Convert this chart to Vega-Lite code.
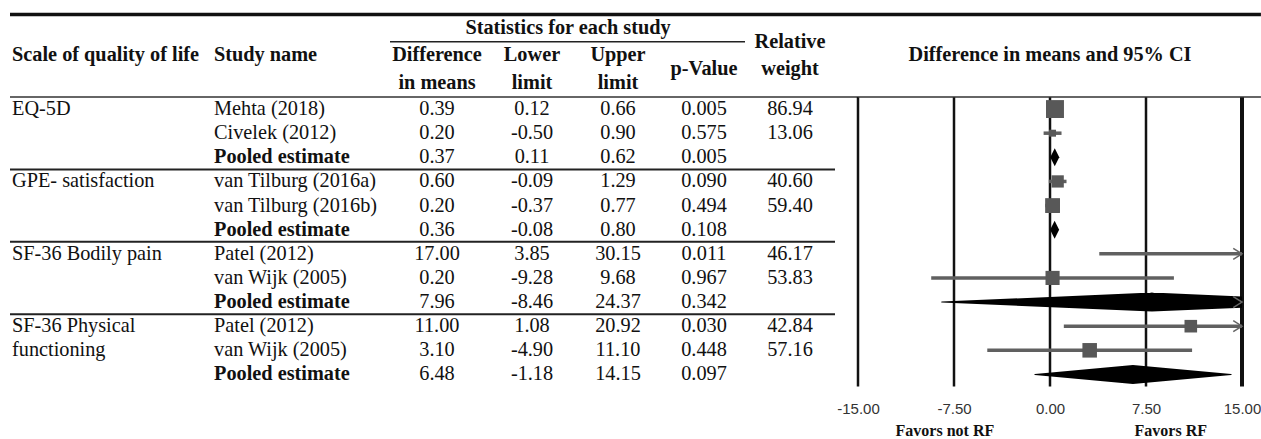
{
  "$schema": "https://vega.github.io/schema/vega-lite/v6.json",
  "padding": 0,
  "spacing": 0,
  "bounds": "flush",
  "background": "white",
  "config": {
    "view": {"stroke": null},
    "locale": {"number": {"decimal": ".", "thousands": ",", "grouping": [3], "currency": ["$", ""], "minus": "-"}}
  },
  "datasets": {
    "studies": [
      {"scale": "EQ-5D", "study": "Mehta (2018)", "diff": 0.39, "lower": 0.12, "upper": 0.66, "p": 0.005, "weight": 86.94},
      {"scale": "EQ-5D", "study": "Civelek (2012)", "diff": 0.20, "lower": -0.50, "upper": 0.90, "p": 0.575, "weight": 13.06},
      {"scale": "EQ-5D", "study": "Pooled estimate", "diff": 0.37, "lower": 0.11, "upper": 0.62, "p": 0.005, "weight": null},
      {"scale": "GPE- satisfaction", "study": "van Tilburg (2016a)", "diff": 0.60, "lower": -0.09, "upper": 1.29, "p": 0.090, "weight": 40.60},
      {"scale": "GPE- satisfaction", "study": "van Tilburg (2016b)", "diff": 0.20, "lower": -0.37, "upper": 0.77, "p": 0.494, "weight": 59.40},
      {"scale": "GPE- satisfaction", "study": "Pooled estimate", "diff": 0.36, "lower": -0.08, "upper": 0.80, "p": 0.108, "weight": null},
      {"scale": "SF-36 Bodily pain", "study": "Patel (2012)", "diff": 17.00, "lower": 3.85, "upper": 30.15, "p": 0.011, "weight": 46.17},
      {"scale": "SF-36 Bodily pain", "study": "van Wijk (2005)", "diff": 0.20, "lower": -9.28, "upper": 9.68, "p": 0.967, "weight": 53.83},
      {"scale": "SF-36 Bodily pain", "study": "Pooled estimate", "diff": 7.96, "lower": -8.46, "upper": 24.37, "p": 0.342, "weight": null},
      {"scale": "SF-36 Physical\nfunctioning", "study": "Patel (2012)", "diff": 11.00, "lower": 1.08, "upper": 20.92, "p": 0.030, "weight": 42.84},
      {"scale": "SF-36 Physical\nfunctioning", "study": "van Wijk (2005)", "diff": 3.10, "lower": -4.90, "upper": 11.10, "p": 0.448, "weight": 57.16},
      {"scale": "SF-36 Physical\nfunctioning", "study": "Pooled estimate", "diff": 6.48, "lower": -1.18, "upper": 14.15, "p": 0.097, "weight": null}
    ],
    "headers": [
      {"text": "Scale of quality of life", "col": -0.5, "line": "l3"},
      {"text": "Study name", "col": 0.5, "line": "l3"},
      {"text": "Statistics for each study", "col": 3.5, "line": "l1"},
      {"text": "Difference", "col": 2, "line": "l3"},
      {"text": "in means", "col": 2, "line": "l5"},
      {"text": "Lower", "col": 3, "line": "l3"},
      {"text": "limit", "col": 3, "line": "l5"},
      {"text": "Upper", "col": 4, "line": "l3"},
      {"text": "limit", "col": 4, "line": "l5"},
      {"text": "p-Value", "col": 5, "line": "l4"},
      {"text": "Relative", "col": 6, "line": "l2"},
      {"text": "weight", "col": 6, "line": "l4"}
    ],
    "grid": [{"v": -15}, {"v": -7.5}, {"v": 0}, {"v": 7.5}, {"v": 15}]
  },
  "resolve": {"scale": {"x": "independent", "y": "independent"}},
  "hconcat": [
    {
      "width": 858,
      "height": 439,
      "resolve": {"scale": {"y": "independent"}},
      "layer": [
        {
          "layer": [
            {
              "data": {"values": [{}]},
              "mark": {"type": "rule", "color": "#111", "strokeWidth": 3.5},
              "encoding": {
                "x": {"datum": -0.6, "type": "quantitative", "axis": null,
                      "scale": {"type": "linear", "nice": false, "zero": false,
                                "domain": [-0.6, -0.5, 0.5, 1.5, 2, 3, 3.5, 4, 5, 5.5, 6, 6.5, 7],
                                "range": [10, 12, 214, 390, 437, 532, 568, 618, 704, 745, 790, 835, 858]}},
                "x2": {"datum": 7},
                "y": {"datum": "top", "type": "nominal", "axis": null,
                      "scale": {"type": "point", "domain": ["top", "l1", "l2", "l3", "l4", "l5"], "range": [14.5, 82.5], "padding": 0}}
              }
            },
            {
              "data": {"values": [{}]},
              "mark": {"type": "rule", "color": "#222", "strokeWidth": 1.5},
              "encoding": {
                "x": {"datum": 1.5, "type": "quantitative"},
                "x2": {"datum": 5.5},
                "y": {"datum": "l2", "type": "nominal"}
              }
            },
            {
              "data": {"name": "headers"},
              "transform": [{"filter": "datum.col < 1"}],
              "mark": {"type": "text", "align": "left", "baseline": "middle", "font": "Liberation Serif", "fontSize": 20.3, "fontWeight": "bold", "color": "#111"},
              "encoding": {
                "x": {"field": "col", "type": "quantitative"},
                "y": {"field": "line", "type": "nominal"},
                "text": {"field": "text"}
              }
            },
            {
              "data": {"name": "headers"},
              "transform": [{"filter": "datum.col >= 1"}],
              "mark": {"type": "text", "align": "center", "baseline": "middle", "font": "Liberation Serif", "fontSize": 20.3, "fontWeight": "bold", "color": "#111"},
              "encoding": {
                "x": {"field": "col", "type": "quantitative"},
                "y": {"field": "line", "type": "nominal"},
                "text": {"field": "text"}
              }
            }
          ]
        },
        {
          "data": {"name": "studies"},
          "transform": [
            {"calculate": "datum.scale + '|' + datum.study", "as": "id"},
            {"window": [{"op": "row_number", "as": "rn"}], "groupby": ["scale"]}
          ],
          "layer": [
            {
              "mark": {"type": "text", "align": "left", "baseline": "middle", "font": "Liberation Serif", "fontSize": 20.3, "color": "#111"},
              "transform": [{"filter": "datum.study !== 'Pooled estimate'"}],
              "encoding": {
                "x": {"datum": 0.5, "type": "quantitative"},
                "y": {"field": "id", "type": "nominal", "axis": null,
                      "scale": {"type": "band", "paddingInner": 0, "paddingOuter": 0, "range": [97, 386.5],
                                "domain": ["EQ-5D|Mehta (2018)", "EQ-5D|Civelek (2012)", "EQ-5D|Pooled estimate",
                                           "GPE- satisfaction|van Tilburg (2016a)", "GPE- satisfaction|van Tilburg (2016b)", "GPE- satisfaction|Pooled estimate",
                                           "SF-36 Bodily pain|Patel (2012)", "SF-36 Bodily pain|van Wijk (2005)", "SF-36 Bodily pain|Pooled estimate",
                                           "SF-36 Physical\nfunctioning|Patel (2012)", "SF-36 Physical\nfunctioning|van Wijk (2005)", "SF-36 Physical\nfunctioning|Pooled estimate"]}},
                "text": {"field": "study"}
              }
            },
            {
              "transform": [{"filter": "datum.rn === 1 && datum.scale === 'EQ-5D'"}],
              "mark": {"type": "rule", "color": "#333", "strokeWidth": 1.5},
              "encoding": {
                "x": {"datum": -0.6, "type": "quantitative"},
                "x2": {"datum": 7},
                "y": {"field": "id", "type": "nominal", "bandPosition": 0}
              }
            },
            {
              "transform": [{"filter": "datum.rn === 1 && datum.scale !== 'EQ-5D'"}],
              "mark": {"type": "rule", "color": "#222", "strokeWidth": 2},
              "encoding": {
                "x": {"datum": -0.6, "type": "quantitative"},
                "x2": {"datum": 6.5},
                "y": {"field": "id", "type": "nominal", "bandPosition": 0}
              }
            },
            {
              "transform": [{"filter": "datum.rn === 1"}],
              "mark": {"type": "text", "align": "left", "baseline": "line-top", "lineHeight": 24.125, "lineBreak": "\n", "font": "Liberation Serif", "fontSize": 20.3, "color": "#111"},
              "encoding": {
                "x": {"datum": -0.5, "type": "quantitative"},
                "y": {"field": "id", "type": "nominal", "bandPosition": 0},
                "text": {"field": "scale"}
              }
            },
            {
              "transform": [{"filter": "datum.study === 'Pooled estimate'"}],
              "mark": {"type": "text", "align": "left", "baseline": "middle", "font": "Liberation Serif", "fontSize": 20.3, "fontWeight": "bold", "color": "#111"},
              "encoding": {
                "x": {"datum": 0.5, "type": "quantitative"},
                "y": {"field": "id", "type": "nominal"},
                "text": {"field": "study"}
              }
            },
            {
              "mark": {"type": "text", "align": "center", "baseline": "middle", "font": "Liberation Serif", "fontSize": 20.3, "color": "#111"},
              "encoding": {
                "x": {"datum": 2, "type": "quantitative"},
                "y": {"field": "id", "type": "nominal"},
                "text": {"field": "diff", "type": "quantitative", "format": ".2f"}
              }
            },
            {
              "mark": {"type": "text", "align": "center", "baseline": "middle", "font": "Liberation Serif", "fontSize": 20.3, "color": "#111"},
              "encoding": {
                "x": {"datum": 3, "type": "quantitative"},
                "y": {"field": "id", "type": "nominal"},
                "text": {"field": "lower", "type": "quantitative", "format": ".2f"}
              }
            },
            {
              "mark": {"type": "text", "align": "center", "baseline": "middle", "font": "Liberation Serif", "fontSize": 20.3, "color": "#111"},
              "encoding": {
                "x": {"datum": 4, "type": "quantitative"},
                "y": {"field": "id", "type": "nominal"},
                "text": {"field": "upper", "type": "quantitative", "format": ".2f"}
              }
            },
            {
              "mark": {"type": "text", "align": "center", "baseline": "middle", "font": "Liberation Serif", "fontSize": 20.3, "color": "#111"},
              "encoding": {
                "x": {"datum": 5, "type": "quantitative"},
                "y": {"field": "id", "type": "nominal"},
                "text": {"field": "p", "type": "quantitative", "format": ".3f"}
              }
            },
            {
              "transform": [{"filter": "datum.weight != null"}],
              "mark": {"type": "text", "align": "center", "baseline": "middle", "font": "Liberation Serif", "fontSize": 20.3, "color": "#111"},
              "encoding": {
                "x": {"datum": 6, "type": "quantitative"},
                "y": {"field": "id", "type": "nominal"},
                "text": {"field": "weight", "type": "quantitative", "format": ".2f"}
              }
            }
          ]
        }
      ]
    },
    {
      "width": 384,
      "height": 439,
      "resolve": {"scale": {"x": "independent", "y": "independent"}, "axis": {"x": "independent"}},
      "layer": [
        {
          "layer": [
            {
              "data": {"values": [{}]},
              "mark": {"type": "rule", "color": "#111", "strokeWidth": 3.5},
              "encoding": {
                "x": {"datum": -15, "type": "quantitative", "scale": {"domain": [-15, 15], "nice": false, "zero": false}},
                "x2": {"datum": 16.48},
                "y": {"datum": "top", "type": "nominal", "axis": null,
                      "scale": {"type": "point", "domain": ["top", "l1", "l2", "l3", "l4", "l5"], "range": [14.5, 82.5], "padding": 0}}
              }
            },
            {
              "data": {"values": [{"text": "Difference in means and 95% CI"}]},
              "mark": {"type": "text", "align": "center", "baseline": "middle", "font": "Liberation Serif", "fontSize": 20.3, "fontWeight": "bold", "color": "#111"},
              "encoding": {
                "x": {"datum": 0, "type": "quantitative",
                      "axis": {"orient": "bottom", "values": [-8.25, 9.4], "labelExpr": "datum.value < 0 ? 'Favors not RF' : 'Favors RF'",
                               "offset": -9, "ticks": false, "tickSize": 0, "domain": false, "grid": false, "title": null,
                               "labelFont": "Liberation Serif", "labelFontSize": 16, "labelFontWeight": "bold", "labelColor": "#111",
                               "labelPadding": 0, "labelBaseline": "middle", "labelFlush": false, "labelOverlap": false}},
                "y": {"datum": "l3", "type": "nominal"},
                "text": {"field": "text"}
              }
            }
          ]
        },
        {
          "data": {"name": "studies"},
          "transform": [{"calculate": "datum.scale + '|' + datum.study", "as": "id"}],
          "layer": [
            {
              "data": {"name": "grid"},
              "mark": {"type": "rule", "color": "#111"},
              "encoding": {
                "x": {"field": "v", "type": "quantitative",
                      "scale": {"domain": [-15, 15], "nice": false, "zero": false},
                      "axis": {"orient": "bottom", "values": [-15, -7.5, 0, 7.5, 15], "format": ".2f",
                               "offset": -31, "ticks": false, "tickSize": 0, "domain": false, "grid": false, "title": null,
                               "labelFont": "Liberation Sans", "labelFontSize": 15, "labelColor": "#333",
                               "labelPadding": 0, "labelBaseline": "middle", "labelFlush": false, "labelOverlap": false}},
                "y": {"datum": "EQ-5D|Mehta (2018)", "type": "nominal", "bandPosition": 0, "axis": null,
                      "scale": {"type": "band", "paddingInner": 0, "paddingOuter": 0, "range": [97, 386.5],
                                "domain": ["EQ-5D|Mehta (2018)", "EQ-5D|Civelek (2012)", "EQ-5D|Pooled estimate",
                                           "GPE- satisfaction|van Tilburg (2016a)", "GPE- satisfaction|van Tilburg (2016b)", "GPE- satisfaction|Pooled estimate",
                                           "SF-36 Bodily pain|Patel (2012)", "SF-36 Bodily pain|van Wijk (2005)", "SF-36 Bodily pain|Pooled estimate",
                                           "SF-36 Physical\nfunctioning|Patel (2012)", "SF-36 Physical\nfunctioning|van Wijk (2005)", "SF-36 Physical\nfunctioning|Pooled estimate"]}},
                "y2": {"datum": "SF-36 Physical\nfunctioning|Pooled estimate", "bandPosition": 1},
                "strokeWidth": {"condition": {"test": "datum.v === 15", "value": 4}, "value": 2.5}
              }
            },
            {
              "data": {"values": [{}]},
              "mark": {"type": "rule", "color": "#333", "strokeWidth": 1.5},
              "encoding": {
                "x": {"datum": -15, "type": "quantitative"},
                "x2": {"datum": 16.48},
                "y": {"datum": "EQ-5D|Mehta (2018)", "type": "nominal", "bandPosition": 0}
              }
            },
            {
              "transform": [{"filter": "datum.study !== 'Pooled estimate'"}],
              "mark": {"type": "rule", "color": "#606060", "strokeWidth": 3.5, "clip": true},
              "encoding": {
                "x": {"field": "lower", "type": "quantitative"},
                "x2": {"field": "upper"},
                "y": {"field": "id", "type": "nominal"}
              }
            },
            {
              "transform": [{"filter": "datum.study !== 'Pooled estimate'"}],
              "mark": {"type": "point", "shape": "square", "filled": true, "color": "#585858", "opacity": 1, "clip": true},
              "encoding": {
                "x": {"field": "diff", "type": "quantitative"},
                "y": {"field": "id", "type": "nominal"},
                "size": {"field": "weight", "type": "quantitative", "scale": {"domain": [0, 100], "range": [0, 370]}, "legend": null}
              }
            },
            {
              "transform": [
                {"filter": "datum.study === 'Pooled estimate' && datum.upper - datum.lower >= 2"},
                {"fold": ["lower", "diff", "upper"], "as": ["key", "value"]}
              ],
              "mark": {"type": "trail", "color": "#000", "clip": true},
              "encoding": {
                "x": {"field": "value", "type": "quantitative"},
                "y": {"field": "id", "type": "nominal"},
                "detail": {"field": "id", "type": "nominal"},
                "order": {"field": "value", "type": "quantitative"},
                "size": {"condition": {"test": "datum.key === 'diff'", "value": 19}, "value": 0}
              }
            },
            {
              "transform": [{"filter": "datum.study === 'Pooled estimate' && datum.upper - datum.lower < 2"}],
              "mark": {"type": "point", "shape": "M-0.5,0L0,-1L0.5,0L0,1Z", "filled": true, "color": "#000", "opacity": 1, "size": 324, "strokeWidth": 0},
              "encoding": {
                "x": {"field": "diff", "type": "quantitative"},
                "y": {"field": "id", "type": "nominal"}
              }
            },
            {
              "transform": [{"filter": "datum.upper > 15"}],
              "mark": {"type": "point", "shape": "M-1.6,-1L0,0L-1.6,1", "filled": false, "color": "#666", "strokeWidth": 1.5, "size": 120, "opacity": 1},
              "encoding": {
                "x": {"datum": 15, "type": "quantitative"},
                "y": {"field": "id", "type": "nominal"}
              }
            }
          ]
        }
      ]
    }
  ]
}
